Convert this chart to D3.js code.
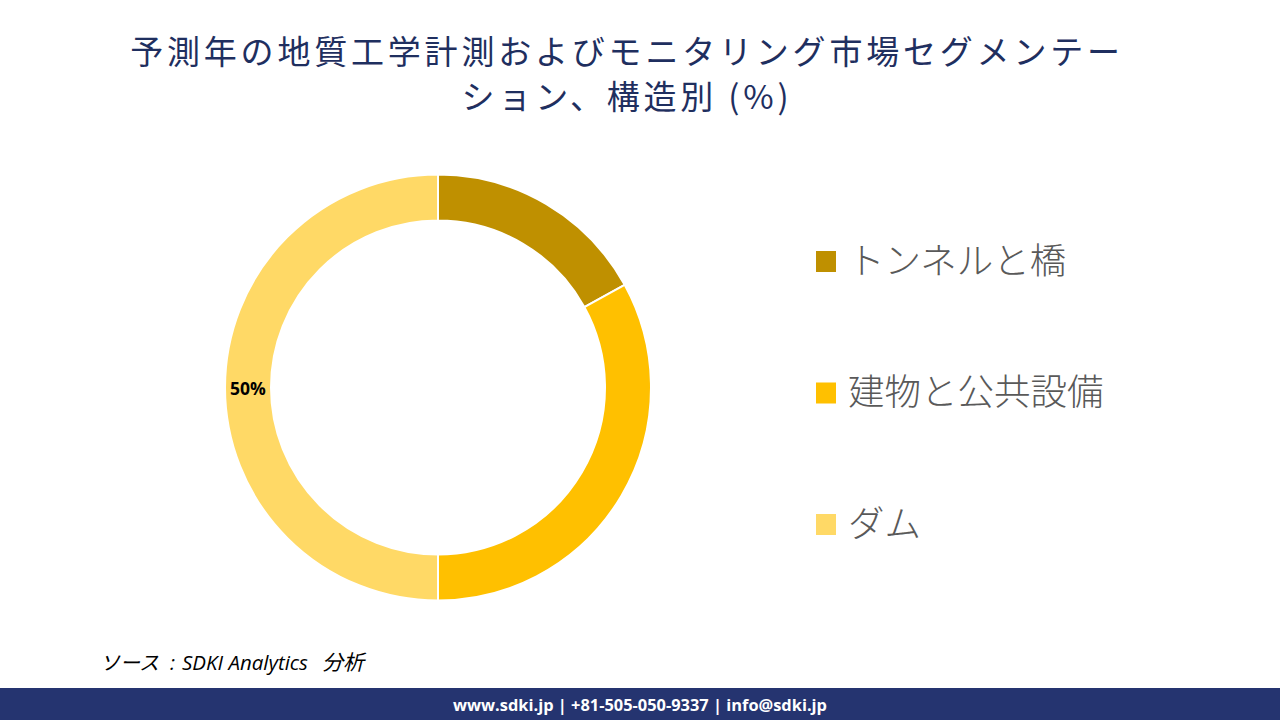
<!DOCTYPE html>
<html><head><meta charset="utf-8">
<script src="https://cdn.jsdelivr.net/npm/d3@7/dist/d3.min.js"></script>
<style>html,body{margin:0;padding:0;background:#fff;}svg{display:block;}</style>
</head><body>
<svg id="chart" width="1280" height="720"></svg>
<script>
const titleLines = ["予測年の地質工学計測およびモニタリング市場セグメンテー", "ション、構造別 (%)"];
const categories = ["トンネルと橋", "建物と公共設備", "ダム"];
const values = [17, 33, 50];
const shownLabels = [false, false, true];
const colors = ["#BF9000", "#FFC000", "#FFD966"];
const sourceJp = "ソース";
const sourceColon = ":";
const sourceEn = "SDKI Analytics";
const sourceTail = "分析";
const footerText = "www.sdki.jp | +81-505-050-9337 | info@sdki.jp";

const svg = d3.select("#chart");
const jp = "'Noto Sans CJK JP', 'Noto Sans', sans-serif";

// Title
svg.append("g").selectAll("text").data(titleLines).join("text")
  .attr("x", 627).attr("y", (d, i) => 64 + i * 45)
  .attr("text-anchor", "middle")
  .attr("font-family", jp).attr("font-size", 33).attr("letter-spacing", 3.8)
  .attr("fill", "#1F2F5F")
  .text(d => d);

// Donut
const cx = 438, cy = 387.5, rOuter = 213, rInner = 167;
const pie = d3.pie().sort(null).value(d => d);
const arcs = pie(values);
const arc = d3.arc().innerRadius(rInner).outerRadius(rOuter);
const g = svg.append("g").attr("transform", `translate(${cx},${cy})`);
g.selectAll("path").data(arcs).join("path")
  .attr("d", arc)
  .attr("fill", (d, i) => colors[i])
  .attr("stroke", "#fff").attr("stroke-width", 2);

const labelArc = d3.arc().innerRadius((rInner + rOuter) / 2).outerRadius((rInner + rOuter) / 2);
g.selectAll("text.lbl").data(arcs.filter((d, i) => shownLabels[i])).join("text")
  .attr("class", "lbl")
  .attr("transform", d => `translate(${labelArc.centroid(d)})`)
  .attr("text-anchor", "middle").attr("dominant-baseline", "central")
  .attr("font-family", "'Open Sans', 'Noto Sans', sans-serif").attr("font-weight", "bold")
  .attr("font-size", 17.5).attr("fill", "#000")
  .text(d => d.data + "%");

// Legend
const ly = d3.scalePoint().domain(categories).range([261, 524]);
const lg = svg.append("g");
const item = lg.selectAll("g").data(categories).join("g")
  .attr("transform", d => `translate(816,${ly(d)})`);
item.append("rect").attr("x", 0).attr("y", -10).attr("width", 20).attr("height", 21)
  .attr("fill", (d, i) => colors[i]);
item.append("text").attr("x", 32).attr("y", -3)
  .attr("dominant-baseline", "central")
  .attr("font-family", jp).attr("font-weight", 300).attr("font-size", 36.5)
  .attr("fill", "#595959").text(d => d);

// Source
const src = svg.append("text").attr("y", 670)
  .attr("font-family", "'Open Sans', 'Noto Sans CJK JP', sans-serif").attr("font-style", "italic")
  .attr("font-size", 20).attr("fill", "#000");
src.append("tspan").attr("x", 100).text(sourceJp);
src.append("tspan").attr("x", 170).text(sourceColon);
src.append("tspan").attr("x", 182).attr("font-size", 20.5).text(sourceEn);
src.append("tspan").attr("x", 322).attr("font-size", 21).text(sourceTail);

// Footer
svg.append("rect").attr("x", 0).attr("y", 688).attr("width", 1280).attr("height", 32).attr("fill", "#253470");
svg.append("text").attr("x", 640).attr("y", 704).attr("text-anchor", "middle")
  .attr("dominant-baseline", "central")
  .attr("font-family", "'Open Sans', sans-serif").attr("font-weight", "bold")
  .attr("font-size", 16.4).attr("fill", "#fff").text(footerText);
</script>
</body></html>
